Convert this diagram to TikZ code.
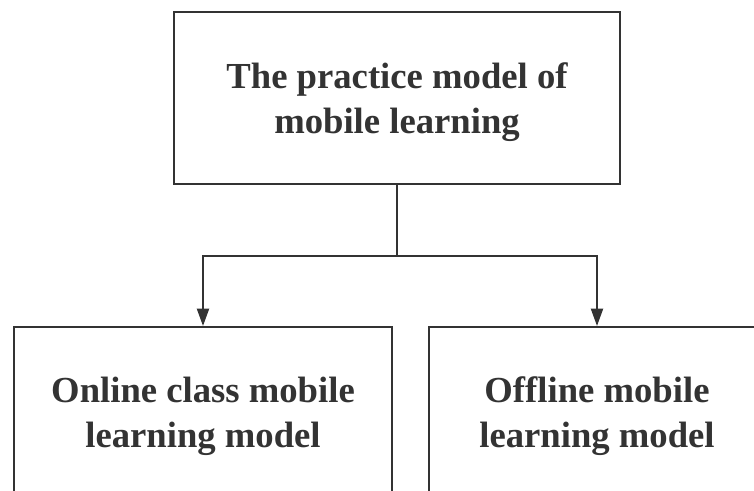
\documentclass[tikz,border=0pt]{standalone}
\usepackage{fontspec}
\setmainfont{Liberation Serif}
\usetikzlibrary{arrows.meta}

\definecolor{inkgray}{HTML}{333333}

\begin{document}
\begin{tikzpicture}[x=0.75pt,y=-0.75pt,
    modelbox/.style={draw=inkgray,line width=1.5pt,fill=white,inner sep=0pt,
      align=center,text=inkgray,text depth=0pt,
      font=\bfseries\fontsize{27.5}{33.5}\selectfont},
    branch/.style={draw=inkgray,line width=1.5pt,-{Triangle[length=13pt,width=9pt]}}]
  \useasboundingbox (0,0) rectangle (754,490);
  \clip (0,0) rectangle (754,490);
  \node[modelbox,minimum width=334.5pt,minimum height=129pt] (practice) at (397,98)
    {The practice model of\\mobile learning};
  \node[modelbox,minimum width=283.5pt,minimum height=127.5pt] (online) at (203,412)
    {Online class mobile\\learning model};
  \node[modelbox,minimum width=252pt,minimum height=127.5pt] (offline) at (597,412)
    {Offline mobile\\learning model};
  \coordinate (fork) at (397,256);
  \draw[draw=inkgray,line width=1.5pt] (practice.south) -- (fork);
  \draw[branch] (fork) -| (online.north);
  \draw[branch] (fork) -| (offline.north);
\end{tikzpicture}
\end{document}
